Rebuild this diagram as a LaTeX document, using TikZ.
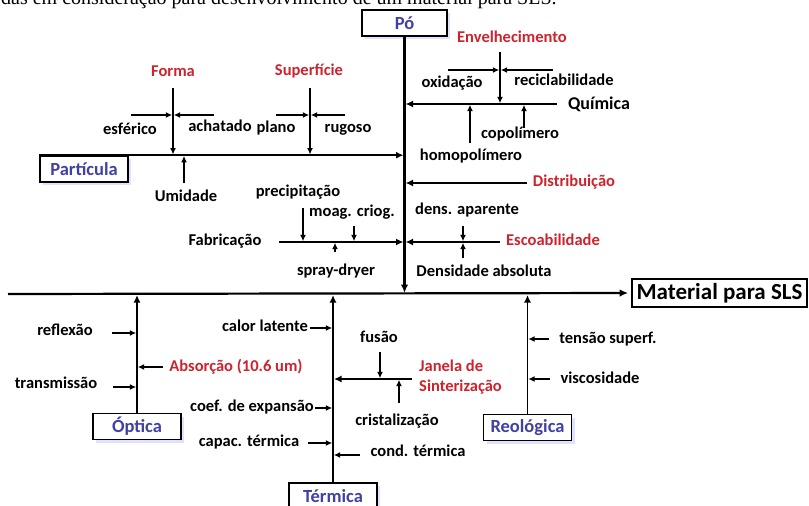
\documentclass[tikz,border=0pt]{standalone}
\usepackage{fontspec}
\setmainfont{Carlito}
\newfontfamily\capfont{Liberation Serif}
\usetikzlibrary{arrows.meta, calc, shadows}
\definecolor{redlab}{RGB}{205,35,45}
\definecolor{bluelab}{RGB}{65,65,165}

\begin{document}
\begin{tikzpicture}[x=1pt, y=-1pt,
  lab/.style={font=\bfseries\fontsize{16.5}{18}\selectfont, inner sep=0pt, text height=11pt, text depth=3.5pt},
  rlab/.style={lab, text=redlab},
  catbox/.style={draw, line width=1.6pt, fill=white, text=bluelab, font=\bfseries\fontsize{18.5}{20}\selectfont,
    minimum width=88pt, minimum height=26pt, inner sep=0pt,
    drop shadow={shadow xshift=3pt, shadow yshift=-3pt, fill=blue!12, opacity=1}},
  spine/.style={line width=2.2pt, -{Latex[length=8.5pt,width=7.5pt]}, shorten >=1pt},
  branch/.style={line width=1.6pt, -{Latex[length=7.5pt,width=7pt]}, shorten >=1pt},
  twig/.style={line width=1.3pt, -{Latex[length=6.5pt,width=6pt]}, shorten >=0.7pt}]
\useasboundingbox (0,0) rectangle (809,506);
\clip (0,0) rectangle (809,506);

\node[anchor=base west, inner sep=0pt, font=\capfont\fontsize{20}{22}\selectfont] (cap) at (1,5)
  {das em consideração para desenvolvimento de um material para SLS.};

% espinha principal
\coordinate (tail) at (8,294);
\node[draw, line width=1.6pt, font=\bfseries\fontsize{23}{25}\selectfont, minimum width=175pt,
  minimum height=28pt, inner sep=0pt] (sls) at (719.5,293) {Material para SLS};
\draw[spine, shorten >=3pt] (tail) -- (sls.west);

% Po
\node[catbox, minimum width=85pt] (po) at (404.5,23) {Pó};
\draw[spine] (po.south) -- (po.south |- tail);

\node[catbox] (part) at (84,169) {Partícula};
\draw[branch] (part.north west) -- (part.north west -| po.south);

\node[rlab] (forma) at (173,73) {Forma};
\coordinate (fo) at (173,88);
\draw[twig] (fo) -- (fo |- part.north);
\coordinate (fo1) at (131,115);
\coordinate (fo2) at (214,115);
\draw[twig] (fo1) -- (fo1 -| fo);
\draw[twig] (fo2) -- (fo2 -| fo);
\node[lab] (esf) at (130,131) {esférico};
\node[lab] (ach) at (220,128) {achatado};

\node[rlab] (sup) at (309,72) {Superfície};
\coordinate (su) at (310,88);
\draw[twig] (su) -- (su |- part.north);
\coordinate (su1) at (276,115);
\coordinate (su2) at (345,115);
\draw[twig] (su1) -- (su1 -| su);
\draw[twig] (su2) -- (su2 -| su);
\node[lab] (pla) at (276,129) {plano};
\node[lab] (rug) at (348,129) {rugoso};

\coordinate (um) at (184,183);
\draw[twig] (um) -- (um |- part.north);
\node[lab] (umi) at (186,198) {Umidade};

\node[lab] (fab) at (225,242) {Fabricação};
\coordinate (fb) at (279,242);
\draw[branch] (fb) -- (fb -| po.south);
\node[lab] (prec) at (298,193) {precipitação};
\coordinate (pr) at (303,208);
\draw[twig] (pr) -- (pr |- fb);
\node[lab] (moag) at (352,213) {moag. criog.};
\coordinate (mo) at (354,226);
\draw[twig] (mo) -- (mo |- fb);
\node[lab] (spray) at (336,272) {spray-dryer};
\coordinate (sp) at (335,252);
\draw[twig] (sp) -- (sp |- fb);

\node[rlab] (env) at (512,39) {Envelhecimento};
\coordinate (en) at (500,52);
\coordinate (qu) at (557,104);
\draw[branch] (qu) -- (qu -| po.south);
\draw[twig] (en) -- (en |- qu);
\coordinate (en1) at (448,70);
\coordinate (en2) at (553,70);
\draw[twig] (en1) -- (en1 -| en);
\draw[twig] (en2) -- (en2 -| en);
\node[lab] (oxi) at (452,84) {oxidação};
\node[lab] (rec) at (564,82) {reciclabilidade};
\node[lab, font=\bfseries\fontsize{18}{20}\selectfont] (quim) at (599,106) {Química};
\node[lab] (homo) at (471,157) {homopolímero};
\coordinate (ho) at (470,143);
\draw[twig] (ho) -- (ho |- qu);
\node[lab] (copo) at (520,135) {copolímero};
\coordinate (co) at (524,128);
\draw[twig] (co) -- (co |- qu);

\node[rlab] (dist) at (574,183) {Distribuição};
\coordinate (di) at (527,183);
\draw[branch] (di) -- (di -| po.south);

\node[lab] (dens) at (467,211) {dens. aparente};
\node[rlab] (esco) at (553,242) {Escoabilidade};
\coordinate (es) at (500,242);
\draw[branch] (es) -- (es -| po.south);
\coordinate (da) at (463,226);
\draw[twig] (da) -- (da |- es);
\coordinate (db) at (463,258);
\draw[twig] (db) -- (db |- es);
\node[lab] (dabs) at (484,273) {Densidade absoluta};

% Optica
\node[catbox] (opt) at (137,426.5) {Óptica};
\draw[branch] (opt.north) -- (opt.north |- tail);
\node[lab] (refl) at (65,332) {reflexão};
\coordinate (rf) at (112,333);
\draw[twig] (rf) -- (rf -| opt.north);
\node[lab] (trans) at (56,385) {transmissão};
\coordinate (tr) at (113,387);
\draw[twig] (tr) -- (tr -| opt.north);
\node[rlab] (abs) at (236,368) {Absorção (10.6 um)};
\coordinate (ab) at (163,367);
\draw[twig] (ab) -- (ab -| opt.north);

% Termica
\node[catbox] (term) at (333,496) {Térmica};
\draw[branch] (term.north) -- (term.north |- tail);
\node[lab] (calor) at (265,328) {calor latente};
\coordinate (cl) at (310,328);
\draw[twig] (cl) -- (cl -| term.north);
\coordinate (ja) at (412,379);
\draw[branch] (ja) -- (ja -| term.north);
\node[anchor=north west, inner sep=0pt, align=left, text=redlab, font=\bfseries\fontsize{16.5}{20}\selectfont]
  (jan) at (419,360) {Janela de\\Sinterização};
\node[lab] (fus) at (379,339) {fusão};
\coordinate (fu) at (380,352);
\draw[twig] (fu) -- (fu |- ja);
\node[lab] (crist) at (397,422) {cristalização};
\coordinate (cr) at (399,403);
\draw[twig] (cr) -- (cr |- ja);
\node[lab] (coef) at (252,408) {coef. de expansão};
\coordinate (ce) at (315,408);
\draw[twig] (ce) -- (ce -| term.north);
\node[lab] (capac) at (249,443) {capac. térmica};
\coordinate (ca) at (308,443);
\draw[twig] (ca) -- (ca -| term.north);
\node[lab] (cond) at (418,453) {cond. térmica};
\coordinate (cd) at (360,455);
\draw[twig] (cd) -- (cd -| term.north);

% Reologica
\node[catbox] (reo) at (527.5,427.5) {Reológica};
\draw[branch] (reo.north) -- (reo.north |- tail);
\node[lab] (tens) at (608,340) {tensão superf.};
\coordinate (te) at (549,339);
\draw[twig] (te) -- (te -| reo.north);
\node[lab] (visc) at (600,380) {viscosidade};
\coordinate (vi) at (550,379);
\draw[twig] (vi) -- (vi -| reo.north);
\end{tikzpicture}
\end{document}
